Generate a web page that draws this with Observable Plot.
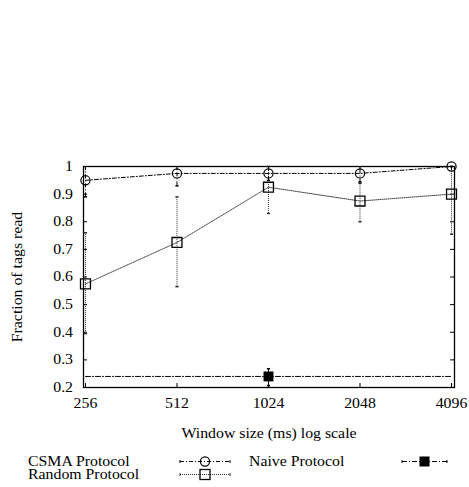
<!DOCTYPE html>
<html>
<head>
<meta charset="utf-8">
<script src="https://cdn.jsdelivr.net/npm/d3@7"></script>
<script src="https://cdn.jsdelivr.net/npm/@observablehq/plot@0.6"></script>
<style>
  html, body { margin: 0; padding: 0; background: #fff; }
  svg { display: block; }
</style>
</head>
<body>
<script>
// ---- data ----
const windows = [256, 512, 1024, 2048, 4096];
const xTicks = [256, 512, 1024, 2048, 4096];
const yTicks = [0.2, 0.3, 0.4, 0.5, 0.6, 0.7, 0.8, 0.9, 1.0];

const csma = [0.95, 0.975, 0.975, 0.975, 1.0];
const csmaLow = [0.89, 0.93, 0.95, 0.94, 1.0];
const csmaHigh = [1.0, 1.0, 1.0, 1.0, 1.0];

const random = [0.575, 0.725, 0.925, 0.875, 0.9];
const randomLow = [0.395, 0.565, 0.83, 0.80, 0.755];
const randomHigh = [0.76, 0.89, 1.0, 0.945, 1.0];

const naive = [0.24, 0.24, 0.24, 0.24, 0.24];
const naiveMarkWindow = [1024];
const naiveMark = [0.24];
const naiveLow = [0.207];
const naiveHigh = [0.268];

const seriesNames = ["CSMA Protocol", "Random Protocol", "Naive Protocol"];
const xLabel = "Window size (ms) log scale";
const yLabel = "Fraction of tags read";

// ---- tables ----
const csmaRows = windows.map((w, i) => ({w, v: csma[i], lo: csmaLow[i], hi: csmaHigh[i]}));
const randomRows = windows.map((w, i) => ({w, v: random[i], lo: randomLow[i], hi: randomHigh[i]}));
const naiveRows = windows.map((w, i) => ({w, v: naive[i]}));
const naiveMarkRows = naiveMarkWindow.map((w, i) => ({w, v: naiveMark[i], lo: naiveLow[i], hi: naiveHigh[i]}));

const capSym = { draw(ctx) { ctx.moveTo(-1.6, 0); ctx.lineTo(1.6, 0); } };

const FONT = "Liberation Serif";
const DASHDOT = "4,2,1,2";
const DOTTED = "1,1";

const plot = Plot.plot({
  width: 469,
  height: 445,
  marginLeft: 83,
  marginRight: 15,
  marginTop: 166,
  marginBottom: 58,
  style: { fontFamily: FONT, fontSize: "14px", color: "#000", background: "#fff" },
  x: { type: "log", base: 2, domain: [252.2, 4190] },
  y: { domain: [0.2, 1] },
  marks: [
    // inward ticks
    Plot.tickY(yTicks, { y: d => d, insetRight: 367, stroke: "#000" }),
    Plot.tickY(yTicks, { y: d => d, insetLeft: 367, stroke: "#000" }),
    Plot.tickX(xTicks, { x: d => d, insetTop: 217, stroke: "#000" }),
    Plot.tickX(xTicks, { x: d => d, insetBottom: 217, stroke: "#000" }),
    Plot.axisX({ ticks: xTicks, tickSize: 0, tickPadding: 11, tickFormat: d => String(d), label: null }),
    Plot.axisY({ ticks: yTicks, tickSize: 0, tickPadding: 10.5, tickFormat: d => (d === 1 ? "1" : d.toFixed(1)), label: null }),
    Plot.text([yLabel], { text: d => d, frameAnchor: "left", dx: -66, rotate: -90, textAnchor: "middle", lineAnchor: "middle", fontSize: 14 }),
    Plot.text([xLabel], { text: d => d, frameAnchor: "bottom", dy: 46, textAnchor: "middle", lineAnchor: "middle", fontSize: 14 }),

    // Random protocol
    Plot.ruleX(randomRows, { x: "w", y1: "lo", y2: "hi", stroke: "#333", strokeDasharray: DOTTED }),
    Plot.dot(randomRows, { x: "w", y: "lo", symbol: capSym, stroke: "#333", r: 2 }),
    Plot.dot(randomRows, { x: "w", y: "hi", symbol: capSym, stroke: "#333", r: 2 }),
    Plot.line(randomRows, { x: "w", y: "v", stroke: "#444", strokeWidth: 1, strokeDasharray: DOTTED }),
    Plot.dot(randomRows, { x: "w", y: "v", symbol: "square", r: 5.6, stroke: "#000", strokeWidth: 1.3, fill: "none" }),

    // CSMA protocol
    Plot.ruleX(csmaRows, { x: "w", y1: "lo", y2: "hi", stroke: "#000", strokeDasharray: DASHDOT }),
    Plot.dot(csmaRows, { x: "w", y: "lo", symbol: capSym, stroke: "#000", r: 2 }),
    Plot.line(csmaRows, { x: "w", y: "v", stroke: "#000", strokeWidth: 1, strokeDasharray: DASHDOT }),
    Plot.dot(csmaRows, { x: "w", y: "v", symbol: "circle", r: 4.6, stroke: "#000", strokeWidth: 1.2, fill: "none" }),

    // Naive protocol
    Plot.line(naiveRows, { x: "w", y: "v", stroke: "#000", strokeWidth: 1, strokeDasharray: "5,2,1,2" }),
    Plot.ruleX(naiveMarkRows, { x: "w", y1: "lo", y2: "hi", stroke: "#000" }),
    Plot.dot(naiveMarkRows, { x: "w", y: "lo", symbol: capSym, stroke: "#000", r: 2 }),
    Plot.dot(naiveMarkRows, { x: "w", y: "hi", symbol: capSym, stroke: "#000", r: 2 }),
    Plot.dot(naiveMarkRows, { x: "w", y: "v", symbol: "square", r: 5.6, fill: "#000", stroke: "none" }),

    Plot.frame({ stroke: "#000", strokeWidth: 1.3 })
  ]
});
document.body.appendChild(plot);

// ---- legend (below the chart) ----
const leg = d3.create("svg").attr("width", 469).attr("height", 42)
  .style("font-family", FONT).style("font-size", "14px");
const items = [
  { name: seriesNames[0], tx: 28, ty: 20.5, x1: 180, x2: 230, cy: 16.5, dash: DASHDOT, stroke: "#000", sym: "circle", fill: "none" },
  { name: seriesNames[1], tx: 28, ty: 34, x1: 180, x2: 230, cy: 29.5, dash: DOTTED, stroke: "#333", sym: "square", fill: "none" },
  { name: seriesNames[2], tx: 249, ty: 20.5, x1: 402, x2: 447, cy: 16.5, dash: "5,2,1,2", stroke: "#000", sym: "square", fill: "#000" }
];
for (const it of items) {
  leg.append("text").attr("x", it.tx).attr("y", it.ty).text(it.name);
  leg.append("line").attr("x1", it.x1).attr("x2", it.x2).attr("y1", it.cy).attr("y2", it.cy)
    .attr("stroke", it.stroke).attr("stroke-dasharray", it.dash);
  for (const ex of [it.x1, it.x2]) {
    leg.append("line").attr("x1", ex).attr("x2", ex).attr("y1", it.cy - 1.5).attr("y2", it.cy + 1.5).attr("stroke", it.stroke);
  }
  const cx = (it.x1 + it.x2) / 2;
  if (it.sym === "circle") {
    leg.append("circle").attr("cx", cx).attr("cy", it.cy).attr("r", 4.6).attr("fill", "none").attr("stroke", "#000").attr("stroke-width", 1.2);
  } else {
    leg.append("rect").attr("x", cx - 5).attr("y", it.cy - 5).attr("width", 10).attr("height", 10)
      .attr("fill", it.fill).attr("stroke", it.fill === "none" ? "#000" : "none").attr("stroke-width", 1.3);
  }
}
document.body.appendChild(leg.node());

// Glyphs in the reference are horizontally wide: stretch text slightly
function stretch(root, k) {
  root.querySelectorAll("text").forEach(t => {
    if (t.querySelector("tspan")) {
      t.querySelectorAll("tspan").forEach(s => {
        const L = s.getComputedTextLength();
        if (L > 0) { s.setAttribute("textLength", (L * k).toFixed(2)); s.setAttribute("lengthAdjust", "spacingAndGlyphs"); }
      });
    } else {
      const L = t.getComputedTextLength();
      if (L > 0) { t.setAttribute("textLength", (L * k).toFixed(2)); t.setAttribute("lengthAdjust", "spacingAndGlyphs"); }
    }
  });
}
stretch(plot, 1.13);
stretch(leg.node(), 1.13);
</script>
</body>
</html>
